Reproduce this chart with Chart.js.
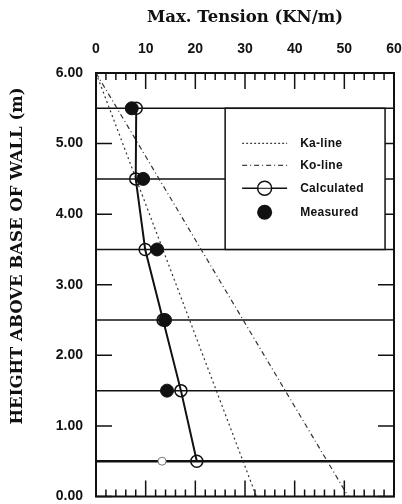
<!DOCTYPE html>
<html>
<head>
<meta charset="utf-8">
<script src="https://cdn.jsdelivr.net/npm/chart.js@4"></script>
<style>
  html, body { margin: 0; padding: 0; background: #fff; }
  #c { display: block; }
</style>
</head>
<body>
<canvas id="c" width="402" height="504"></canvas>
<script>
// heights of the reinforcement layers (m) and tension values
const heights = [5.5, 4.5, 3.5, 2.5, 1.5, 0.5];
const calculated = [8.1, 8.0, 9.9, 13.5, 17.1, 20.3];
const measured = [7.2, 9.5, 12.3, 13.9, 14.3, 13.3];
const kaLine = [[0, 6], [32.3, 0]];
const koLine = [[0, 6], [50.8, 0]];
const xTickLabels = [0, 10, 20, 30, 40, 50, 60];
const yTickLabels = [0, 1, 2, 3, 4, 5, 6];
const legendLabels = ['Ka-line', 'Ko-line', 'Calculated', 'Measured'];

const INK = '#111';
const TICK_FONT = { family: 'Liberation Sans, Arial, sans-serif', size: 14, weight: 'bold', lineHeight: 1 };

const toPts = (xs) => xs.map((x, i) => ({ x: x, y: heights[i] }));
const pair = (arr) => arr.map(p => ({ x: p[0], y: p[1] }));

const layerSets = heights.map(h => ({
  data: [{ x: 0, y: h }, { x: 60, y: h }],
  showLine: true,
  borderColor: INK,
  borderWidth: h === 0.5 ? 2.5 : 1.5,
  pointRadius: 0
}));

// frame, inward ticks, legend box and rotated y title
const decor = {
  id: 'decor',
  afterDatasetsDraw(chart) {
    const { ctx, chartArea: a, scales: { x, y } } = chart;
    ctx.save();
    ctx.strokeStyle = INK;
    ctx.lineWidth = 2;
    ctx.strokeRect(a.left, a.top, a.right - a.left, a.bottom - a.top);

    ctx.lineWidth = 1.5;
    ctx.beginPath();
    for (let v = 0; v <= 60; v += 2) {
      const px = x.getPixelForValue(v);
      const len = v % 10 === 0 ? 16 : 7;
      ctx.moveTo(px, a.top); ctx.lineTo(px, a.top + len);
      ctx.moveTo(px, a.bottom); ctx.lineTo(px, a.bottom - len);
    }
    yTickLabels.forEach(v => {
      const py = y.getPixelForValue(v);
      ctx.moveTo(a.left, py); ctx.lineTo(a.left + 16, py);
      ctx.moveTo(a.right, py); ctx.lineTo(a.right - 16, py);
    });
    ctx.stroke();

    // legend box sits between the 5.5 and 3.5 layers
    const bl = x.getPixelForValue(26), br = x.getPixelForValue(58.2);
    const bt = y.getPixelForValue(5.5), bb = y.getPixelForValue(3.5);
    ctx.fillStyle = '#fff';
    ctx.fillRect(bl, bt, br - bl, bb - bt);
    ctx.lineWidth = 1.5;
    ctx.strokeRect(bl, bt, br - bl, bb - bt);

    const rows = [35, 57, 80, 104];
    const s0 = bl + 17, s1 = bl + 62, sm = (s0 + s1) / 2;
    ctx.font = 'bold 12px "Liberation Sans", Arial, sans-serif';
    ctx.textBaseline = 'middle';
    ctx.fillStyle = INK;
    if ('letterSpacing' in ctx) ctx.letterSpacing = '0.3px';
    rows.forEach((r, i) => {
      const ry = bt + r;
      ctx.beginPath();
      ctx.lineWidth = 1;
      if (i === 0) ctx.setLineDash([2, 2]);
      if (i === 1) ctx.setLineDash([5, 3, 1, 3]);
      if (i < 3) { ctx.moveTo(s0, ry); ctx.lineTo(s1, ry); ctx.lineWidth = i === 2 ? 1.5 : 1; ctx.stroke(); }
      ctx.setLineDash([]);
      if (i === 2) {
        ctx.beginPath(); ctx.fillStyle = '#fff'; ctx.arc(sm, ry, 7, 0, Math.PI * 2); ctx.fill();
        ctx.lineWidth = 1.5; ctx.stroke();
        ctx.beginPath(); ctx.moveTo(sm - 7, ry); ctx.lineTo(sm + 7, ry); ctx.lineWidth = 1; ctx.stroke();
        ctx.fillStyle = INK;
      }
      if (i === 3) { ctx.beginPath(); ctx.arc(sm, ry, 7.5, 0, Math.PI * 2); ctx.fill(); }
      ctx.fillText(legendLabels[i], bl + 75, ry);
    });
    if ('letterSpacing' in ctx) ctx.letterSpacing = '0px';

    ctx.translate(18, 256);
    ctx.rotate(-Math.PI / 2);
    ctx.font = 'bold 16.5px "DejaVu Serif", serif';
    ctx.textAlign = 'center';
    ctx.fillText('HEIGHT ABOVE BASE OF WALL (m)', 0, 0);
    ctx.restore();
  }
};

new Chart(document.getElementById('c'), {
  type: 'scatter',
  data: {
    datasets: [
      {
        label: 'Measured',
        data: toPts(measured),
        pointRadius: measured.map((v, i) => i === 5 ? 4 : 6.5),
        pointBackgroundColor: measured.map((v, i) => i === 5 ? '#fff' : INK),
        pointBorderColor: measured.map((v, i) => i === 5 ? '#777' : INK),
        pointBorderWidth: 1,
        showLine: false
      },
      {
        label: 'Calculated',
        data: toPts(calculated),
        showLine: true,
        borderColor: INK,
        borderWidth: 2,
        pointRadius: 6,
        pointBorderWidth: 1.5,
        pointBorderColor: INK,
        pointBackgroundColor: 'rgba(0,0,0,0)'
      },
      {
        label: 'Ka-line',
        data: pair(kaLine),
        showLine: true,
        borderColor: '#333',
        borderWidth: 1.2,
        borderDash: [2, 3],
        pointRadius: 0
      },
      {
        label: 'Ko-line',
        data: pair(koLine),
        showLine: true,
        borderColor: '#333',
        borderWidth: 1.2,
        borderDash: [5, 3, 1, 3],
        pointRadius: 0
      },
      ...layerSets
    ]
  },
  options: {
    responsive: false,
    animation: false,
    layout: { padding: { left: 0, right: 8, top: 0, bottom: 6 } },
    plugins: { legend: { display: false }, tooltip: { enabled: false } },
    scales: {
      x: {
        type: 'linear',
        position: 'top',
        min: 0,
        max: 60,
        afterBuildTicks: s => { s.ticks = xTickLabels.map(v => ({ value: v })); },
        afterFit: s => { s.height = 73; s.paddingLeft = 0; s.paddingRight = 0; },
        ticks: { color: INK, font: TICK_FONT, padding: 17, maxRotation: 0 },
        grid: { display: false, drawTicks: false },
        border: { display: false },
        title: {
          display: true,
          text: 'Max. Tension (KN/m)',
          color: INK,
          font: { family: 'DejaVu Serif, serif', size: 16.5, weight: 'bold', lineHeight: 1.2 },
          padding: { top: 8, bottom: 0 }
        }
      },
      y: {
        type: 'linear',
        min: 0,
        max: 6,
        afterBuildTicks: s => { s.ticks = yTickLabels.map(v => ({ value: v })); },
        afterFit: s => { s.width = 96; s.paddingTop = 0; s.paddingBottom = 0; },
        ticks: { color: INK, font: TICK_FONT, padding: 13, callback: v => v.toFixed(2) },
        grid: { display: false, drawTicks: false },
        border: { display: false }
      }
    }
  },
  plugins: [decor]
});
</script>
</body>
</html>
